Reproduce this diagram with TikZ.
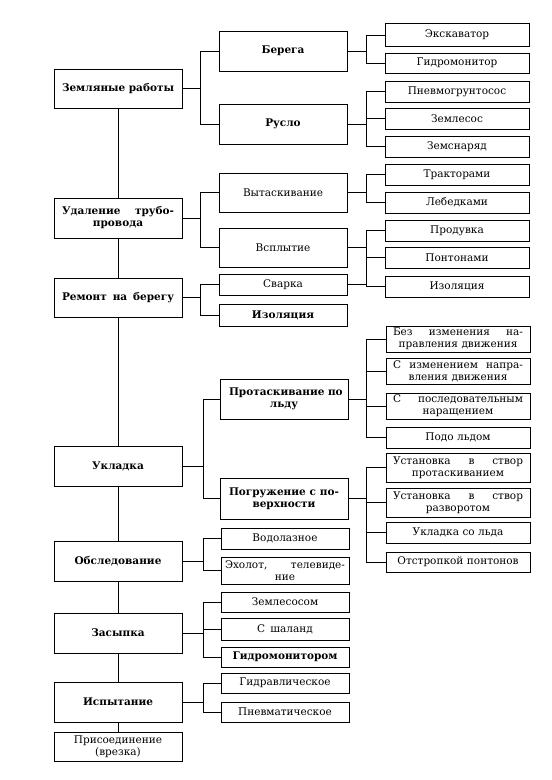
\documentclass[tikz,border=0pt]{standalone}
\usepackage{fontspec}
\setmainfont{DejaVu Serif}
\newcommand{\fsz}{\fontsize{10.5}{12}\selectfont}
\newcommand{\fszb}{\fontsize{10.5}{12}\selectfont\bfseries}
\newcommand{\sline}[1]{\makebox[\linewidth][s]{\spaceskip=.33em plus 1fil\relax #1}}
\begin{document}
\begin{tikzpicture}[x=1pt,y=-1pt,
  box/.style={draw, line width=0.9pt, inner xsep=1pt, inner ysep=0.5pt, align=center, font=\fsz},
  mainbox/.style={box, minimum width=128pt, text width=112pt, font=\fszb},
  colB/.style={box, minimum width=128pt, text width=110pt},
  colC/.style={box, minimum width=144pt, text width=130pt},
  bld/.style={font=\fszb},
  conn/.style={line width=0.8pt}]
\useasboundingbox (0,0) rectangle (552,780);
% main column
\node[mainbox, minimum height=39pt] (m1) at (118,88.5) {\sline{Земляные работы}};
\node[mainbox, minimum height=40pt] (m2) at (118,218) {\sline{Удаление трубо-}\\провода};
\node[mainbox, minimum height=39pt] (m3) at (118,297.5) {\sline{Ремонт на берегу}};
\node[mainbox, minimum height=40pt] (m4) at (118,466) {Укладка};
\node[mainbox, minimum height=40pt] (m5) at (118,561) {Обследование};
\node[mainbox, minimum height=40pt] (m6) at (118,633) {Засыпка};
\node[mainbox, minimum height=40pt] (m7) at (118,702) {Испытание};
\node[mainbox, font=\fsz, minimum height=29pt] (m8) at (118,746.5) {Присоединение\\(врезка)};
% second column
\node[colB, bld, minimum height=40pt] (b1) at (283,51) {Берега};
\node[colB, bld, minimum height=40pt] (b2) at (283,124) {Русло};
\node[colB, minimum height=39pt] (b3) at (283,192.5) {Вытаскивание};
\node[colB, minimum height=39pt] (b4) at (283,247.5) {Всплытие};
\node[colB, minimum height=21pt] (b5) at (283,284.5) {Сварка};
\node[colB, bld, minimum height=22pt] (b6) at (283,315) {Изоляция};
\node[colB, bld, minimum height=40pt] (b7) at (284,399) {\sline{Протаскивание по}\\льду};
\node[colB, bld, minimum height=41pt] (b8) at (284,498.5) {\sline{Погружение с по-}\\верхности};
\node[colB, minimum height=21pt] (b9) at (285,538.5) {Водолазное};
\node[colB, text width=120pt, minimum height=27pt] (b10) at (285,570.5) {\sline{Эхолот, телевиде-}\\ние};
\node[colB, minimum height=20pt] (b11) at (285,602) {Землесосом};
\node[colB, minimum height=22pt] (b12) at (285,629) {С\enskip шаланд};
\node[colB, bld, minimum height=20pt] (b13) at (285,657) {Гидромонитором};
\node[colB, minimum height=20pt] (b14) at (285,683) {Гидравлическое};
\node[colB, minimum height=20pt] (b15) at (285,712) {Пневматическое};
% third column
\node[colC, minimum height=23pt] (c1) at (457,35) {Экскаватор};
\node[colC, minimum height=20pt] (c2) at (457,63) {Гидромонитор};
\node[colC, minimum height=21pt] (c3) at (457,91.5) {Пневмогрунтосос};
\node[colC, minimum height=21pt] (c4) at (457,118.5) {Землесос};
\node[colC, minimum height=21pt] (c5) at (457,146.5) {Земснаряд};
\node[colC, minimum height=21pt] (c6) at (457,174.5) {Тракторами};
\node[colC, minimum height=21pt] (c7) at (457,202.5) {Лебедками};
\node[colC, minimum height=21pt] (c8) at (457,230.5) {Продувка};
\node[colC, minimum height=21pt] (c9) at (457,257.5) {Понтонами};
\node[colC, minimum height=21pt] (c10) at (457,286.5) {Изоляция};
\node[colC, minimum height=26pt] (c11) at (458,339) {\sline{Без изменения на-}\\правления движения};
\node[colC, minimum height=26pt] (c12) at (458,371) {\sline{С изменением напра-}\\вления движения};
\node[colC, minimum height=26pt] (c13) at (458,406) {\sline{С последовательным}\\наращением};
\node[colC, minimum height=21pt] (c14) at (458,437.5) {Подо льдом};
\node[colC, minimum height=29pt] (c15) at (458,467.5) {\sline{Установка в створ}\\протаскиванием};
\node[colC, minimum height=29pt] (c16) at (458,502.5) {\sline{Установка в створ}\\разворотом};
\node[colC, minimum height=21pt] (c17) at (458,532.5) {Укладка со льда};
\node[colC, minimum height=20pt] (c18) at (458,562) {Отстропкой понтонов};
% junction x positions
\coordinate (j1) at (200,0);
\coordinate (j2) at (203,0);
\coordinate (k1) at (366,0);
% spine
\draw[conn] (m1.south) -- (m2.north);
\draw[conn] (m2.south) -- (m3.north);
\draw[conn] (m3.south) -- (m4.north);
\draw[conn] (m4.south) -- (m5.north);
\draw[conn] (m5.south) -- (m6.north);
\draw[conn] (m6.south) -- (m7.north);
\draw[conn] (m7.south) -- (m8.north);
% main -> second column
\draw[conn] (m1.east) -- (m1.east -| j1);
\draw[conn] (b1.west) -- (b1.west -| j1) -- (b2.west -| j1) -- (b2.west);
\draw[conn] (m2.east) -- (m2.east -| j1);
\draw[conn] (b3.west) -- (b3.west -| j1) -- (b4.west -| j1) -- (b4.west);
\draw[conn] (m3.east) -- (m3.east -| j1);
\draw[conn] (b5.west) -- (b5.west -| j1) -- (b6.west -| j1) -- (b6.west);
\draw[conn] (m4.east) -- (m4.east -| j2);
\draw[conn] (b7.west) -- (b7.west -| j2) -- (b8.west -| j2) -- (b8.west);
\draw[conn] (m5.east) -- (m5.east -| j2);
\draw[conn] (b9.west) -- (b9.west -| j2) -- (b10.west -| j2) -- (b10.west);
\draw[conn] (m6.east) -- (m6.east -| j2);
\draw[conn] (b11.west) -- (b11.west -| j2) -- (b13.west -| j2) -- (b13.west);
\draw[conn] (b12.west -| j2) -- (b12.west);
\draw[conn] (m7.east) -- (m7.east -| j2);
\draw[conn] (b14.west) -- (b14.west -| j2) -- (b15.west -| j2) -- (b15.west);
% second -> third column
\draw[conn] (b1.east) -- (b1.east -| k1);
\draw[conn] (c1.west) -- (c1.west -| k1) -- (c2.west -| k1) -- (c2.west);
\draw[conn] (b2.east) -- (b2.east -| k1);
\draw[conn] (c3.west) -- (c3.west -| k1) -- (c5.west -| k1) -- (c5.west);
\draw[conn] (c4.west -| k1) -- (c4.west);
\draw[conn] (b3.east) -- (b3.east -| k1);
\draw[conn] (c6.west) -- (c6.west -| k1) -- (c7.west -| k1) -- (c7.west);
\draw[conn] (b4.east) -- (b4.east -| k1);
\draw[conn] (b5.east) -- (b5.east -| k1);
\draw[conn] (c8.west) -- (c8.west -| k1) -- (c10.west -| k1) -- (c10.west);
\draw[conn] (c9.west -| k1) -- (c9.west);
\draw[conn] (b7.east) -- (b7.east -| k1);
\draw[conn] (c11.west) -- (c11.west -| k1) -- (c14.west -| k1) -- (c14.west);
\draw[conn] (c12.west -| k1) -- (c12.west);
\draw[conn] (c13.west -| k1) -- (c13.west);
\draw[conn] (b8.east) -- (b8.east -| k1);
\draw[conn] (c15.west) -- (c15.west -| k1) -- (c18.west -| k1) -- (c18.west);
\draw[conn] (c16.west -| k1) -- (c16.west);
\draw[conn] (c17.west -| k1) -- (c17.west);
\end{tikzpicture}
\end{document}
